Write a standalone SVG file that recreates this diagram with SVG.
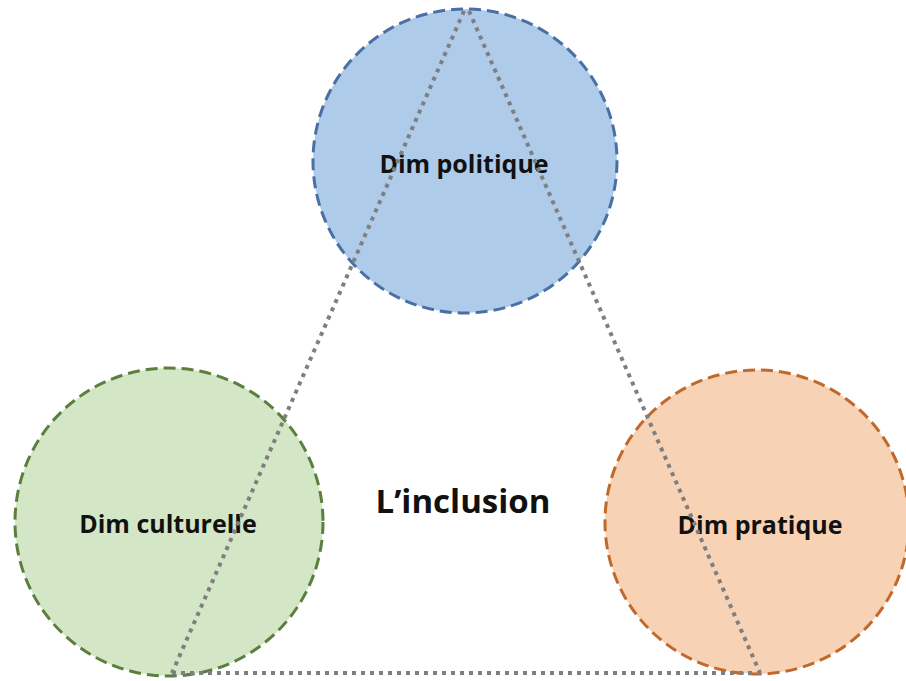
<svg xmlns="http://www.w3.org/2000/svg" width="906" height="681" viewBox="0 0 906 681">
<style>
.node{stroke-width:3;stroke-dasharray:12 6}
.lbl{font-family:"Open Sans","Liberation Sans",sans-serif;font-weight:bold;font-size:25px;fill:#111;text-anchor:middle}
.title{font-family:"Open Sans","Liberation Sans",sans-serif;font-weight:bold;font-size:33px;fill:#111;text-anchor:middle}
.conn{fill:none;stroke:#7f7f7f;stroke-width:4;stroke-dasharray:4 5}
</style>
<rect width="906" height="681" fill="#ffffff"/>
<g id="politique">
<circle class="node" cx="465" cy="161" r="152" fill="#aecbea" stroke="#4a6fa5"/>
<text class="lbl" x="464" y="173">Dim politique</text>
</g>
<g id="culturelle">
<circle class="node" cx="169" cy="522" r="154" fill="#d3e6c5" stroke="#5a7f3f"/>
<text class="lbl" x="168" y="533">Dim culturelle</text>
</g>
<g id="pratique">
<circle class="node" cx="757" cy="522" r="152" fill="#f8d2b5" stroke="#c1682b"/>
<text class="lbl" x="760" y="534">Dim pratique</text>
</g>
<g id="inclusion">
<text class="title" x="463" y="513">L’inclusion</text>
</g>
<g id="connectors">
<line class="conn" x1="464" y1="11" x2="172" y2="673"/>
<line class="conn" x1="469" y1="11" x2="760" y2="673"/>
<line class="conn" x1="172" y1="673" x2="760" y2="673"/>
</g>
</svg>
